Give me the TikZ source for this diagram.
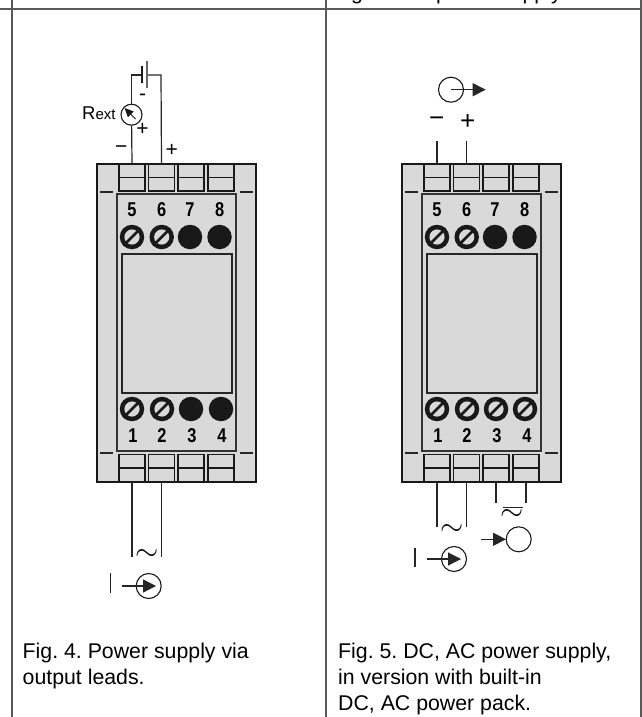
\documentclass[tikz,border=0pt]{standalone}
\usepackage{fontspec}
\setmainfont{Liberation Sans}
\usepackage{tikz}
\usetikzlibrary{arrows.meta}
\definecolor{casegray}{gray}{0.85}
\definecolor{rulegray}{gray}{0.35}
\newcommand{\pxfont}[1]{\fontsize{#1}{#1}\selectfont}
\newcommand{\termdigit}[1]{\scalebox{0.82}[1]{\bfseries #1}}
\newcommand{\acsign}{\scalebox{1.2}{\pxfont{24}$\sim$}}
\tikzset{>={Triangle[length=13pt,width=13pt]}}
\tikzset{
  tablerule/.style={draw=rulegray,line width=1.5pt},
  casebox/.style={draw=black!90,fill=casegray,line width=1.6pt},
  termbox/.style={draw=black!90,fill=casegray,line width=1.6pt,minimum width=26pt,minimum height=27pt,inner sep=0pt},
  lead/.style={draw=black!85,line width=1.2pt},
  symcircle/.style={draw=black!90,fill=white,circle,line width=1.1pt,minimum size=25pt,inner sep=0pt},
  solidscrew/.style={circle,fill=black!90,minimum size=24.5pt,inner sep=0pt},
  slotscrew/.style={solidscrew,path picture={
      \fill[casegray] (path picture bounding box.center) circle (7.6);
      \draw[black!90,line width=2.6pt] ([shift={(-9,9)}]path picture bounding box.center) -- ([shift={(9,-9)}]path picture bounding box.center);
      \draw[black!90,line width=1.5pt] ([shift={(-3,-9)}]path picture bounding box.center) -- ([shift={(-9,-3)}]path picture bounding box.center);
      \draw[black!90,line width=1.5pt] ([shift={(3,9)}]path picture bounding box.center) -- ([shift={(9,3)}]path picture bounding box.center);
  }},
  digit/.style={inner sep=0pt,font=\pxfont{20}},
  sign/.style={inner sep=0pt,font=\pxfont{21}},
  bigsign/.style={inner sep=0pt,font=\pxfont{26}},
  caption/.style={anchor=base west,inner sep=0pt,font=\pxfont{21.3}\frenchspacing},
}

\begin{document}
\begin{tikzpicture}[x=1pt,y=-1pt]
  \useasboundingbox (0,0) rectangle (642,717);

  % table
  \coordinate (edgel) at (0,9);
  \coordinate (edger) at (642,9);
  \coordinate (headl) at (12,0);
  \coordinate (headm) at (326,0);
  \coordinate (headr) at (641,0);
  \coordinate (endl) at (12,717);
  \coordinate (endm) at (326,717);
  \coordinate (endr) at (641,717);
  \draw[tablerule] (edgel) -- (edger);
  \draw[tablerule] (headl) -- (endl);
  \draw[tablerule] (headm) -- (endm);
  \draw[tablerule] (headr) -- (endr);

  % cut off heading line
  \begin{scope}
    \clip (330,0) rectangle (636,5);
    \node[caption] (headg) at (351,0) {g};
    \node[caption] (headp) at (436,0) {power supply};
  \end{scope}

  % the two housings
  \foreach \d/\dx in {l/0, r/305} {
    \begin{scope}[shift={(\dx,0)}]
      \node[casebox,minimum width=159pt,minimum height=318pt,inner sep=0pt] (\d case) at (176.5,323) {};
      \node[draw=black!80,line width=1.4pt,minimum width=119pt,minimum height=257pt,inner sep=0pt] (\d front) at (176.5,322.5) {};
      \node[draw=black!85,line width=2pt,minimum width=110pt,minimum height=139pt,inner sep=0pt] (\d window) at (176.5,323) {};

      \foreach \s/\t in {1/192, 2/453} {
        \coordinate (\d tick\s a) at (100,\t);
        \coordinate (\d tick\s b) at (113,\t);
        \coordinate (\d tick\s c) at (239.5,\t);
        \coordinate (\d tick\s d) at (252.5,\t);
        \draw[lead] (\d tick\s a) -- (\d tick\s b);
        \draw[lead] (\d tick\s c) -- (\d tick\s d);
      }

      \foreach \n/\t in {5/132, 6/161.5, 7/191, 8/221} {
        \node[termbox] (\d\n) at (\t,177.5) {};
        \draw[line width=1.6pt,black!90] (\d\n.west) -- (\d\n.east);
      }
      \foreach \n/\t in {1/132, 2/161.5, 3/191, 4/221} {
        \node[termbox] (\d\n) at (\t,468) {};
        \draw[line width=1.6pt,black!90] (\d\n.west) -- (\d\n.east);
      }

      \foreach \n/\t in {5/132, 6/161.7, 7/190, 8/219.7} {
        \node[digit] (\d n\n) at (\t,210) {\termdigit{\n}};
      }
      \foreach \n/\t in {1/133, 2/162, 3/192, 4/222} {
        \node[digit] (\d n\n) at (\t,436) {\termdigit{\n}};
      }

      \node[slotscrew] (\d s5) at (132,237) {};
      \node[slotscrew] (\d s6) at (161.7,237) {};
      \node[solidscrew] (\d s7) at (190,237) {};
      \node[solidscrew] (\d s8) at (219.5,237) {};
      \node[slotscrew] (\d s1) at (132,409) {};
      \node[slotscrew] (\d s2) at (162,409) {};
    \end{scope}
  }

  \node[solidscrew] (ls3) at (191,409) {};
  \node[solidscrew] (ls4) at (221,409) {};
  \node[slotscrew] (rs3) at (496,409) {};
  \node[slotscrew] (rs4) at (525,409) {};

  % Fig. 4, top leads
  \node[symcircle,minimum size=21pt] (meter) at (131.5,114.7) {};
  \coordinate (battl) at (142,75);
  \coordinate (battr) at (147,75);
  \coordinate (cornl) at (131.5,75);
  \coordinate (cornr) at (161,75);
  \coordinate (plateaa) at (142,66.5);
  \coordinate (plateab) at (142,82.5);
  \coordinate (plateba) at (147,61);
  \coordinate (platebb) at (147,88);
  \coordinate (needlea) at (135.5,119);
  \coordinate (needleb) at (124.5,108);
  \draw[lead] (l5.north) -- (meter);
  \draw[lead] (meter) -- (cornl) -- (battl);
  \draw[lead] (battr) -- (cornr) -- (l6.north);
  \draw[black!90,line width=1.8pt] (plateaa) -- (plateab);
  \draw[black!60,line width=1.4pt] (plateba) -- (platebb);
  \draw[black!90,line width=1pt,-{Triangle[length=9pt,width=8pt]}] (needlea) -- (needleb);
  \node[anchor=base west,inner sep=0pt] (rext) at (82,119) {\pxfont{18.5}R\pxfont{15}ext};
  \node[sign] (mneg) at (142.5,97) {-};
  \node[sign] (mpos) at (142.5,129.5) {+};
  \node[sign] (lneg) at (121.3,150) {\char"2212};
  \node[sign] (lpos) at (171.7,150) {+};

  % Fig. 4, bottom leads
  \coordinate (lwire1) at (132,557);
  \coordinate (lwire2) at (161.5,557);
  \draw[lead] (l1.south) -- (lwire1);
  \draw[lead] (l2.south) -- (lwire2);
  \node[inner sep=0pt] (lac) at (147,555) {\acsign};
  \node[symcircle] (lsrc) at (148.7,586) {};
  \coordinate (lcura) at (110.3,573);
  \coordinate (lcurb) at (110.3,593);
  \coordinate (larra) at (121.7,586);
  \coordinate (larrb) at (156,586);
  \draw[lead] (lcura) -- (lcurb);
  \draw[lead,->] (larra) -- (larrb);

  % Fig. 5, top leads
  \node[symcircle] (rout) at (451,89.7) {};
  \coordinate (routa) at (451,89.7);
  \coordinate (routb) at (485.7,89.7);
  \draw[lead,->] (routa) -- (routb);
  \node[bigsign] (rneg) at (436.7,122) {\char"2212};
  \node[bigsign] (rpos) at (467.7,122) {+};
  \coordinate (rtop5) at (437,141);
  \coordinate (rtop6) at (466.5,141);
  \draw[lead] (r5.north) -- (rtop5);
  \draw[lead] (r6.north) -- (rtop6);

  % Fig. 5, bottom leads
  \coordinate (rwire1) at (437,526.7);
  \coordinate (rwire2) at (466.5,526.7);
  \coordinate (rwire3) at (496,503);
  \coordinate (rwire4) at (526,503);
  \draw[lead] (r1.south) -- (rwire1);
  \draw[lead] (r2.south) -- (rwire2);
  \draw[lead] (r3.south) -- (rwire3);
  \draw[lead] (r4.south) -- (rwire4);
  \node[inner sep=0pt] (rac) at (452,530) {\acsign};
  \coordinate (rbara) at (503,507.7);
  \coordinate (rbarb) at (522.5,507.7);
  \draw[lead] (rbara) -- (rbarb);
  \node[inner sep=0pt] (rdc) at (512,515.5) {\acsign};
  \node[symcircle] (rin) at (518.7,539.3) {};
  \coordinate (rina) at (480.7,539.3);
  \coordinate (rinb) at (506,539.3);
  \draw[lead,->] (rina) -- (rinb);
  \node[symcircle] (rsrc) at (454,559) {};
  \coordinate (rcura) at (415,548);
  \coordinate (rcurb) at (415,567);
  \coordinate (rarra) at (426.7,559);
  \coordinate (rarrb) at (461,559);
  \draw[lead] (rcura) -- (rcurb);
  \draw[lead,->] (rarra) -- (rarrb);

  % captions
  \node[caption] (capa) at (22.5,658) {Fig. 4. Power supply via};
  \node[caption] (capb) at (22.5,684) {output leads.};
  \node[caption] (capc) at (338,658) {Fig. 5. DC, AC power supply,};
  \node[caption] (capd) at (338,684) {in version with built-in};
  \node[caption] (cape) at (338,710) {DC, AC power pack.};
\end{tikzpicture}
\end{document}
